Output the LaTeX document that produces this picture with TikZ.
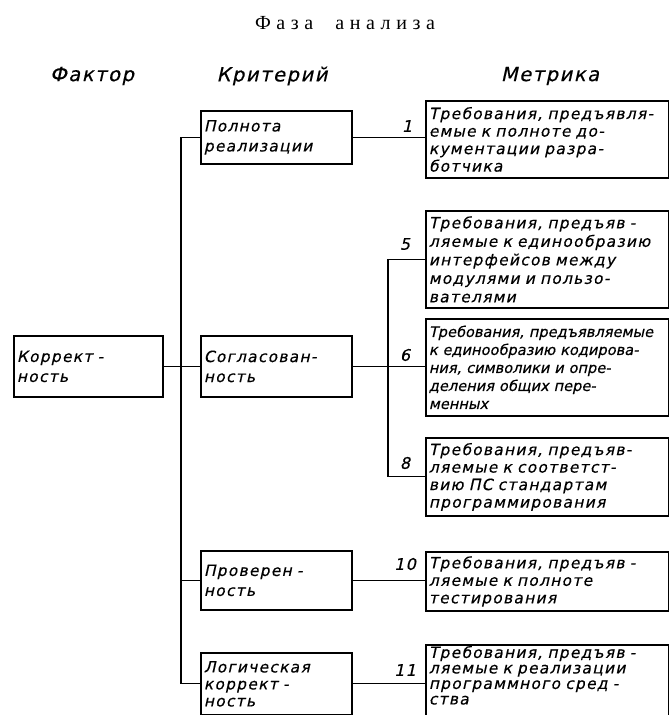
\documentclass[tikz,border=0pt]{standalone}
\usepackage{fontspec}
\newfontfamily\gost[FakeSlant=0.22,LetterSpace=8,FakeBold=0.4]{DejaVu Sans}
\newfontfamily\gostn[FakeSlant=0.22,LetterSpace=0,FakeBold=0.4]{DejaVu Sans}
\newfontfamily\titlefont[LetterSpace=28]{Liberation Serif}
\begin{document}
\begin{tikzpicture}[x=1pt,y=-1pt,
  box/.style={draw,line width=1.8pt,anchor=north west,inner xsep=3pt,inner ysep=2pt,align=left},
  mbox/.style={box,minimum width=243pt,text width=237pt,font=\gost\fontsize{15.5}{17.5}\selectfont},
  cbox/.style={box,minimum width=151pt,text width=145pt,font=\gost\fontsize{15.5}{20}\selectfont},
  hdr/.style={font=\gost\fontsize{19.5}{21}\selectfont},
  lbl/.style={font=\gost\fontsize{16}{18}\selectfont,inner sep=0pt},
  conn/.style={line width=1.1pt}]
\useasboundingbox[fill=white] (0,0) rectangle (669,715);
% title and headers
\node[font=\titlefont\fontsize{20}{22}\selectfont] (title) at (345,23) {Фаза\hspace{22pt}анализа};
\node[hdr] (hf) at (92,76) {Фактор};
\node[hdr] (hc) at (272,76) {Критерий};
\node[hdr] (hm) at (550,76) {Метрика};
% factor
\node[box,minimum width=149pt,text width=143pt,minimum height=61pt,font=\gost\fontsize{15.5}{20}\selectfont] (f) at (13,335) {Коррект -\\ность};
% criteria
\node[cbox,minimum height=53pt] (c1) at (200,110) {Полнота\\реализации};
\node[cbox,minimum height=61pt] (c2) at (200,335) {Согласован-\\ность};
\node[cbox,minimum height=59pt] (c3) at (200,550) {Проверен -\\ность};
\node[cbox,minimum height=62pt,font=\gost\fontsize{15.5}{17}\selectfont] (c4) at (200,652) {Логическая\\коррект -\\ность};
% metrics
\node[mbox,minimum height=77pt] (m1) at (425,100) {Требования, предъявля-\\емые к полноте до-\\кументации разра-\\ботчика};
\node[mbox,minimum height=97pt,font=\gost\fontsize{15.5}{18.5}\selectfont] (m5) at (425,210) {Требования, предъяв -\\ляемые к единообразию\\интерфейсов между\\модулями и пользо-\\вателями};
\node[mbox,minimum height=97pt,font=\gostn\fontsize{14.6}{18}\selectfont] (m6) at (425,318) {Требования, предъявляемые\\к единообразию кодирова-\\ния, символики и опре-\\деления общих пере-\\менных};
\node[mbox,minimum height=78pt] (m8) at (425,437) {Требования, предъяв-\\ляемые к соответст-\\вию ПС стандартам\\программирования};
\node[mbox,minimum height=59pt] (m10) at (425,551) {Требования, предъяв -\\ляемые к полноте\\тестирования};
\node[mbox,inner ysep=1pt,font=\gost\fontsize{15.5}{15.5}\selectfont] (m11) at (425,644) {Требования, предъяв -\\ляемые к реализации\\программного сред -\\ства\rule[-14pt]{0pt}{14pt}};
% number labels
\node[lbl] (l1) at (407,126) {1};
\node[lbl] (l5) at (405,244) {5};
\node[lbl] (l6) at (405,355) {6};
\node[lbl] (l8) at (405,463) {8};
\node[lbl] (l10) at (405,564) {10};
\node[lbl] (l11) at (405,670) {11};
% connectors
\coordinate (tA) at (181,0);
\coordinate (tB) at (388,0);
\draw[conn] (f.east) -- (c2.west);
\draw[conn] (c1.west) -- (c1.west -| tA) -- (c4.west -| tA) -- (c4.west);
\draw[conn] (c3.west) -- (c3.west -| tA);
\draw[conn] (c1.east) -- (c1.east -| m1.west);
\draw[conn] (c2.east) -- (c2.east -| m6.west);
\draw[conn] (m5.west) -- (m5.west -| tB) -- (m8.west -| tB) -- (m8.west);
\draw[conn] (c3.east) -- (c3.east -| m10.west);
\draw[conn] (c4.east) -- (c4.east -| m11.west);
\end{tikzpicture}
\end{document}
